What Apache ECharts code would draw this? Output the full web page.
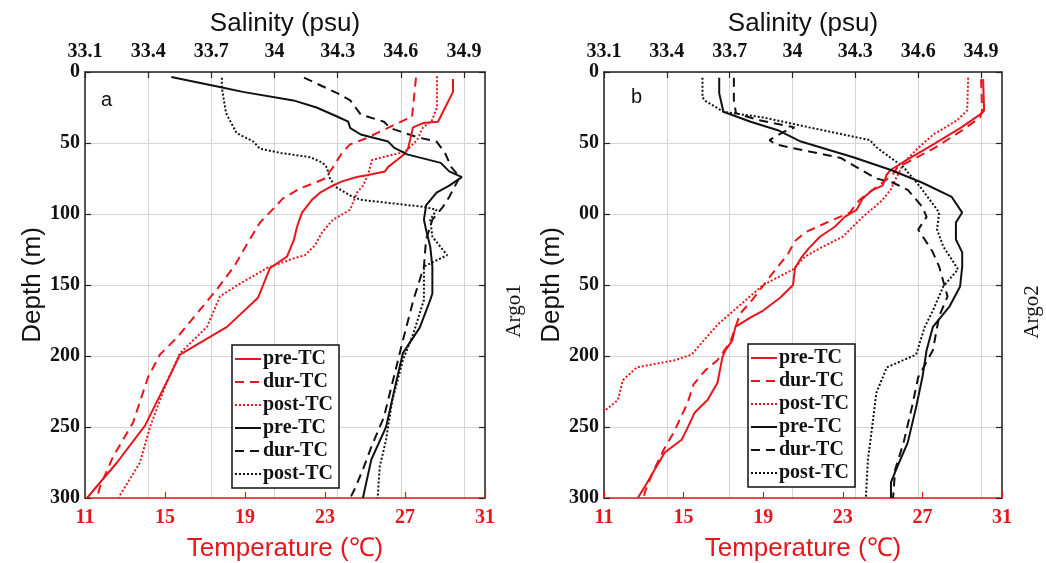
<!DOCTYPE html>
<html>
<head>
<meta charset="utf-8">
<script src="https://cdn.jsdelivr.net/npm/echarts@6/dist/echarts.min.js"></script>
<style>
  html, body { margin: 0; padding: 0; background: #fff; }
  #chart { width: 1046px; height: 563px; }
</style>
</head>
<body>
<div id="chart"></div>
<script>
// Tick labels
const tempTicks = [11, 15, 19, 23, 27, 31];
const salTicks = [33.1, 33.4, 33.7, 34, 34.3, 34.6, 34.9];
const depthLabelsA = ['0', '50', '100', '150', '200', '250', '300'];
const depthLabelsB = ['0', '50', '00', '50', '200', '250', '300'];

// Argo1 temperature profiles [°C, depth m]
const a_temp_pre = [[29.4,5],[29.4,14],[28.65,35],[27.9,36],[27.4,39],[27.35,42],[27.15,54],[26.95,58],[26.6,62],[26.15,67],[26.0,70],[25.15,72.5],[24.6,74],[23.85,77],[23.25,81],[22.75,85],[22.35,90],[21.85,99],[21.6,109],[21.45,118],[21.1,130],[20.25,138],[19.65,159],[18.1,179.5],[15.75,199],[15.1,218],[14.0,249],[12.6,275],[11.1,300]];
const a_temp_dur = [[27.55,4],[27.45,18],[27.35,32],[27.1,33],[26.65,36],[25.75,42],[25.0,47],[24.25,51],[23.85,57],[23.4,67],[23.0,75],[22.5,78],[21.75,82],[20.9,89],[20.5,95],[19.75,106],[19.15,120],[18.5,136],[17.6,153],[16.6,170],[15.6,187],[14.75,199],[14.15,215],[13.4,247],[12.4,271],[11.75,292],[11.6,300]];
const a_temp_post = [[28.6,3],[28.6,25],[28.35,34],[27.9,39],[27.6,48],[27.1,55],[26.75,57],[25.9,60],[25.35,62],[25.15,72.5],[24.9,80],[24.6,85],[24.4,92],[24.25,97],[23.4,104],[22.85,113],[22.5,122],[22.0,129],[21.5,131],[20.1,138],[18.75,149],[17.75,158],[17.1,179.5],[15.75,198],[15.1,218],[14.25,250],[13.75,275],[12.75,298],[12.7,300]];

// Argo1 salinity profiles [psu, depth m]
const a_sal_pre = [[33.51,3.5],[33.74,10.5],[33.85,14],[34.09,20],[34.2,25],[34.3,31.5],[34.35,35],[34.36,39.5],[34.41,44],[34.54,49],[34.57,53.5],[34.63,58],[34.79,64],[34.83,70],[34.89,74],[34.83,80],[34.77,85],[34.72,94],[34.71,104],[34.72,111],[34.74,123],[34.75,137],[34.75,156],[34.74,160.5],[34.69,180],[34.61,198],[34.58,217],[34.53,250],[34.46,273],[34.42,300]];
const a_sal_dur = [[34.14,4],[34.3,15],[34.36,20],[34.41,30],[34.52,35],[34.55,39.5],[34.6,42],[34.68,46],[34.77,49],[34.81,57],[34.84,67],[34.88,74],[34.83,88],[34.8,95],[34.75,104],[34.72,118],[34.71,137],[34.66,160.5],[34.61,189],[34.56,219],[34.52,243],[34.46,264],[34.42,280],[34.38,294],[34.36,300]];
const a_sal_post = [[33.75,4],[33.75,11],[33.77,29],[33.82,43],[33.9,49],[33.93,54],[34.03,57],[34.17,60],[34.23,64],[34.25,67.5],[34.26,74],[34.29,81],[34.36,87],[34.41,90],[34.71,95],[34.77,97],[34.74,104],[34.75,116],[34.82,129],[34.71,137],[34.71,160.5],[34.66,184],[34.61,203],[34.56,231],[34.53,259],[34.5,278],[34.49,300]];

// Argo2 temperature profiles
const b_temp_pre = [[30.05,5],[30.1,27],[30.0,29],[28.9,39.5],[27.55,51],[26.2,62],[25.4,69],[25.2,72.5],[25.0,80],[24.5,83],[24.0,89],[23.7,97],[23.1,102],[22.6,109],[21.85,116],[21.3,124],[20.95,130],[20.6,138],[20.5,150],[19.85,159],[19.0,168],[18.35,173],[17.6,179.5],[17.45,189],[17.1,196],[16.95,201],[16.7,219],[16.2,231],[15.55,240],[15.15,252],[14.9,259],[14.05,268],[13.55,280],[13.05,292],[12.7,300]];
const b_temp_dur = [[29.95,5],[30.0,27],[29.9,32],[28.9,42],[27.55,54],[26.2,64],[25.75,67],[25.5,72.5],[24.7,81],[23.85,90],[23.35,99],[22.2,106],[21.1,113],[20.6,119],[20.25,128],[19.35,144],[18.45,160.5],[17.85,170],[17.35,190],[16.7,203],[16.1,210],[15.5,220],[15.2,233],[14.5,254],[14.0,266],[13.45,282],[13.05,296],[13.0,300]];
const b_temp_post = [[29.3,4],[29.25,27],[28.75,34],[27.55,44],[26.75,54],[26.05,64],[25.9,69],[25.7,74],[25.4,83],[25.0,90],[24.6,95],[24.0,102],[23.5,109],[23.0,116],[22.0,123],[21.1,130],[20.5,139],[19.0,150],[16.7,178],[15.4,199],[14.55,203],[12.65,208],[11.95,217],[11.7,231],[11.0,239]];

// Argo2 salinity profiles
const b_sal_pre = [[33.65,4],[33.65,15],[33.67,28],[33.8,35],[33.93,41],[34.04,49],[34.29,60],[34.47,69],[34.62,78],[34.76,88],[34.81,99],[34.78,106],[34.78,118],[34.81,127],[34.81,137],[34.8,151],[34.75,165],[34.67,179.5],[34.64,196],[34.62,215],[34.59,236],[34.55,261],[34.5,278],[34.47,289],[34.47,300]];
const b_sal_dur = [[33.72,4],[33.72,20],[33.73,29],[33.84,34],[34.01,39],[33.96,42],[33.89,48],[33.92,51],[34.08,56],[34.23,60.5],[34.4,75],[34.48,78],[34.55,83],[34.62,95],[34.64,102],[34.6,111],[34.64,120],[34.67,127],[34.7,137],[34.74,158],[34.7,172],[34.67,196],[34.6,215],[34.57,236],[34.53,261],[34.49,280],[34.48,300]];
const b_sal_post = [[33.57,4],[33.57,17.6],[33.58,20],[33.67,28],[33.86,32],[34.08,39],[34.37,48],[34.4,53],[34.53,67],[34.61,81],[34.7,99],[34.69,111],[34.72,123],[34.76,132],[34.79,139],[34.72,151],[34.67,168],[34.63,180],[34.59,199],[34.45,208],[34.4,226],[34.38,250],[34.36,273],[34.35,300]];

const RED = '#e8161c';
const BLACK = '#111';
const AXIS = '#222';
const SERIF = '"Liberation Serif", "DejaVu Serif", serif';
const SANS = '"Liberation Sans", Arial, sans-serif';

// fixed plot boxes; axis texts are allowed to sit near the canvas edge
const grids = [
  { left: 85, top: 72, width: 400, height: 426, outerBoundsMode: 'none', containLabel: false },
  { left: 604, top: 72, width: 398, height: 426, outerBoundsMode: 'none', containLabel: false }
];

function tempAxis(g) {
  return {
    type: 'value', gridIndex: g, position: 'bottom',
    min: tempTicks[0], max: tempTicks[tempTicks.length - 1], interval: 4,
    axisLine: { show: true, onZero: false, lineStyle: { color: RED, width: 1.5 } },
    axisTick: { show: true, inside: true, length: 6, lineStyle: { color: RED, width: 1.2 } },
    axisLabel: { color: RED, fontFamily: SERIF, fontWeight: 'bold', fontSize: 20, margin: 10 },
    splitLine: { show: false },
    name: 'Temperature (℃)', nameLocation: 'middle', nameGap: 38,
    nameTextStyle: { color: RED, fontFamily: SANS, fontSize: 26 }
  };
}
function salAxis(g) {
  return {
    type: 'value', gridIndex: g, position: 'top',
    min: salTicks[0], max: 35.0, interval: 0.3,
    axisLine: { show: true, onZero: false, lineStyle: { color: AXIS, width: 1.5 } },
    axisTick: { show: true, inside: true, length: 6, lineStyle: { color: AXIS, width: 1.2 } },
    axisLabel: {
      color: BLACK, fontFamily: SERIF, fontWeight: 'bold', fontSize: 20, margin: 10,
      showMaxLabel: false,
      formatter: v => String(+v.toFixed(1))
    },
    splitLine: { show: true, lineStyle: { color: '#d4d4d4', width: 1 } },
    name: 'Salinity (psu)', nameLocation: 'middle', nameGap: 33,
    nameTextStyle: { color: BLACK, fontFamily: SANS, fontSize: 26 }
  };
}
function depthAxis(g, labels, gap) {
  return {
    type: 'value', gridIndex: g, position: 'left', inverse: true,
    min: 0, max: 300, interval: 50,
    axisLine: { show: true, onZero: false, lineStyle: { color: AXIS, width: 1.5 } },
    axisTick: { show: true, inside: true, length: 6, lineStyle: { color: AXIS, width: 1.2 } },
    axisLabel: {
      color: BLACK, fontFamily: SERIF, fontWeight: 'bold', fontSize: 20, margin: 5,
      formatter: v => labels[Math.round(v / 50)]
    },
    splitLine: { show: true, lineStyle: { color: '#d4d4d4', width: 1 } },
    name: 'Depth (m)', nameLocation: 'middle', nameGap: gap,
    nameTextStyle: { color: BLACK, fontFamily: SANS, fontSize: 26 }
  };
}
function rightAxis(g) {
  return {
    type: 'value', gridIndex: g, position: 'right', inverse: true,
    min: 0, max: 300, interval: 50,
    axisLine: { show: true, onZero: false, lineStyle: { color: AXIS, width: 1.5 } },
    axisTick: { show: true, inside: true, length: 6, lineStyle: { color: AXIS, width: 1.2 } },
    axisLabel: { show: false },
    splitLine: { show: false }
  };
}

const styles = {
  pre: { type: 'solid', width: 2 },
  dur: { type: [9, 6], width: 2 },
  post: { type: [2, 2], width: 2 }
};

function profile(name, data, xIdx, yIdx, color, kind) {
  return {
    type: 'line', name: name, data: data,
    xAxisIndex: xIdx, yAxisIndex: yIdx,
    symbol: 'none', showSymbol: false,
    lineStyle: Object.assign({ color: color }, styles[kind]),
    itemStyle: { color: color },
    silent: true, z: kind === 'pre' ? 4 : 3
  };
}

const series = [
  profile('aT1|pre-TC', a_temp_pre, 0, 0, RED, 'pre'),
  profile('aT2|dur-TC', a_temp_dur, 0, 0, RED, 'dur'),
  profile('aT3|post-TC', a_temp_post, 0, 0, RED, 'post'),
  profile('aS1|pre-TC', a_sal_pre, 1, 0, BLACK, 'pre'),
  profile('aS2|dur-TC', a_sal_dur, 1, 0, BLACK, 'dur'),
  profile('aS3|post-TC', a_sal_post, 1, 0, BLACK, 'post'),
  profile('bT1|pre-TC', b_temp_pre, 2, 2, RED, 'pre'),
  profile('bT2|dur-TC', b_temp_dur, 2, 2, RED, 'dur'),
  profile('bT3|post-TC', b_temp_post, 2, 2, RED, 'post'),
  profile('bS1|pre-TC', b_sal_pre, 3, 2, BLACK, 'pre'),
  profile('bS2|dur-TC', b_sal_dur, 3, 2, BLACK, 'dur'),
  profile('bS3|post-TC', b_sal_post, 3, 2, BLACK, 'post')
];

function legendBox(prefix, left, top) {
  return {
    orient: 'vertical', left: left, top: top,
    data: series.filter(s => s.name.startsWith(prefix)).map(s => s.name),
    formatter: n => n.split('|')[1],
    itemWidth: 26, itemHeight: 14, itemGap: 3,
    padding: [4, 6, 4, 2],
    backgroundColor: '#fff', borderColor: '#111', borderWidth: 1.5,
    selectedMode: false,
    // line sample only, no marker on it
    itemStyle: { opacity: 0 },
    textStyle: { color: BLACK, fontFamily: SERIF, fontWeight: 'bold', fontSize: 20, lineHeight: 20, padding: [0, 0, 0, -3] }
  };
}

const option = {
  animation: false,
  backgroundColor: '#fff',
  grid: grids,
  xAxis: [tempAxis(0), salAxis(0), tempAxis(1), salAxis(1)],
  yAxis: [depthAxis(0, depthLabelsA, 31), rightAxis(0), depthAxis(1, depthLabelsB, 32), rightAxis(1)],
  legend: [legendBox('a', 232, 345), legendBox('b', 748, 344)],
  series: series,
  graphic: [
    { type: 'text', left: 101, top: 90, style: { text: 'a', font: '20px ' + SANS, fill: BLACK } },
    { type: 'text', left: 631, top: 87, style: { text: 'b', font: '20px ' + SANS, fill: BLACK } },
    { type: 'text', x: 514, y: 311, rotation: Math.PI / 2,
      style: { text: 'Argo1', font: '21px ' + SERIF, fill: BLACK, align: 'center', verticalAlign: 'middle' } },
    { type: 'text', x: 1032, y: 312, rotation: Math.PI / 2,
      style: { text: 'Argo2', font: '21px ' + SERIF, fill: BLACK, align: 'center', verticalAlign: 'middle' } }
  ]
};

const chart = echarts.init(document.getElementById('chart'), null, { renderer: 'canvas' });
chart.setOption(option);
</script>
</body>
</html>
